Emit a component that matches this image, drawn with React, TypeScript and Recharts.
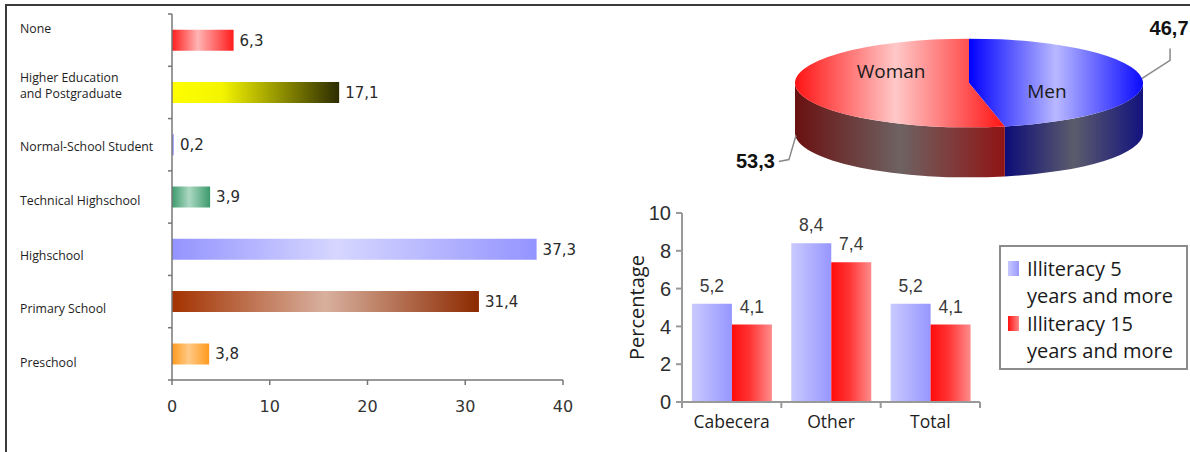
import React from "react";
import { Bar, BarChart, Cell, LabelList, Legend, Pie, PieChart, XAxis, YAxis } from "recharts";

// education level (left)
const levels = [
  "None",
  "Higher Education\nand Postgraduate",
  "Normal-School Student",
  "Technical Highschool",
  "Highschool",
  "Primary School",
  "Preschool",
];
const levelValues = [6.3, 17.1, 0.2, 3.9, 37.3, 31.4, 3.8];
const levelTicks = [0, 10, 20, 30, 40];

// sex split (pie)
const sexLabels = ["Men", "Woman"];
const sexValues = [46.7, 53.3];

// illiteracy (small bars)
const areas = ["Cabecera", "Other", "Total"];
const illit5 = [5.2, 8.4, 5.2];
const illit15 = [4.1, 7.4, 4.1];
const pctTicks = [0, 2, 4, 6, 8, 10];
const seriesNames = ["Illiteracy 5\nyears and more", "Illiteracy 15\nyears and more"];

const levelData = levels.map((name, i) => ({ name, value: levelValues[i] }));
const sexData = sexLabels.map((name, i) => ({ name, value: sexValues[i] }));
const areaData = areas.map((name, i) => ({ name, a: illit5[i], b: illit15[i] }));

const comma = (v: any) => String(v).replace(".", ",");

// gradient stops per level bar
const levelGrads = [
  ["#ff1c1c", "#ffb4b4", "#ff1c1c"],
  ["#ffff00", "#f4f400", "#2c2c00"],
  ["#8c8cff", "#c4c4ff", "#8c8cff"],
  ["#3c9a6c", "#acd8c2", "#3c9a6c"],
  ["#9494ff", "#d6d6ff", "#9494ff"],
  ["#a33200", "#d8b09e", "#8c2a00"],
  ["#ff9a1e", "#ffc985", "#ff9a1e"],
];
const midStop = ["42%", "30%", "50%", "45%", "45%", "50%", "45%"];
const labelNudge = [-11, -7, 2, 4, 6, 7.5, 8.5];

const L_TOP = 14;
const L_BOTTOM = 380;
const L_BAND = (L_BOTTOM - L_TOP) / levels.length;

function LevelTick(props: any) {
  const { x, y, payload, index } = props;
  const lines = String(payload.value).split("\n");
  const yc = y + labelNudge[index] - (lines.length - 1) * 8;
  return (
    <g>
      <line x1={x - 4} x2={x} y1={y - L_BAND / 2} y2={y - L_BAND / 2} stroke="#777" strokeWidth={1.5} />
      {index === levels.length - 1 && (
        <line x1={x - 4} x2={x} y1={y + L_BAND / 2} y2={y + L_BAND / 2} stroke="#777" strokeWidth={1.5} />
      )}
      <text x={20} y={yc} fontFamily="Open Sans" fontSize={12.3} fill="#1e1e1e">
        {lines.map((l, i) => (
          <tspan key={i} x={20} dy={i === 0 ? "0.35em" : 16}>
            {l}
          </tspan>
        ))}
      </text>
    </g>
  );
}

// 3D pie drawn from the sector angles recharts computes
const FLAT = 0.255;
const DEPTH = 50;

function SexSlice(props: any) {
  const { cx, cy, outerRadius, startAngle, endAngle, midAngle, index, value, name } = props;
  const rx = outerRadius;
  const ry = outerRadius * FLAT;
  const pt = (deg: number, dy = 0) => {
    const r = (deg * Math.PI) / 180;
    return [cx + rx * Math.cos(r), cy - ry * Math.sin(r) + dy];
  };
  const [sx, sy] = pt(startAngle);
  const [ex, ey] = pt(endAngle);
  const large = Math.abs(endAngle - startAngle) > 180 ? 1 : 0;
  const sweep = endAngle < startAngle ? 1 : 0;
  const top = `M${cx},${cy} L${sx},${sy} A${rx},${ry} 0 ${large} ${sweep} ${ex},${ey} Z`;

  const lo = Math.min(startAngle, endAngle);
  const hi = Math.max(startAngle, endAngle);
  const sides: string[] = [];
  for (const k of [-360, 0, 360]) {
    const a = Math.max(lo, -180 + k);
    const b = Math.min(hi, k);
    if (a < b) {
      const [bx, by] = pt(b);
      const [ax, ay] = pt(a);
      sides.push(
        `M${bx},${by} A${rx},${ry} 0 0 1 ${ax},${ay} L${ax},${ay + DEPTH} A${rx},${ry} 0 0 0 ${bx},${by + DEPTH} Z`
      );
    }
  }
  const key = index === 0 ? "men" : "woman";
  const [mx, my] = pt(midAngle);
  const inner = [cx + 0.45 * rx * Math.cos((midAngle * Math.PI) / 180), cy + (index === 0 ? 8 : -12)];

  return (
    <g>
      {sides.map((d, i) => (
        <path key={i} d={d} fill={`url(#side-${key})`} />
      ))}
      <path d={top} fill={`url(#top-${key})`} />
      <text
        x={inner[0]}
        y={inner[1]}
        dy="0.35em"
        textAnchor="middle"
        fontFamily="Open Sans"
        fontSize={19}
        fill="#1a1a1a"
      >
        {name}
      </text>
      {index === 0 ? (
        <g>
          <polyline
            points={`${mx},${my} ${mx + 28},${my - 18} ${mx + 28},${my - 30}`}
            fill="none"
            stroke="#888"
            strokeWidth={1.5}
          />
          <text x={mx + 27} y={my - 50} dy="0.35em" textAnchor="middle" fontFamily="Liberation Sans" fontWeight="bold" fontSize={20} fill="#111">
            {comma(value)}
          </text>
        </g>
      ) : (
        <g>
          <polyline
            points={`${mx},${my + DEPTH - 2} ${mx - 7},${my + DEPTH + 22} ${mx - 17},${my + DEPTH + 24}`}
            fill="none"
            stroke="#888"
            strokeWidth={1.5}
          />
          <text x={mx - 21} y={my + DEPTH + 23} dy="0.35em" textAnchor="end" fontFamily="Liberation Sans" fontWeight="bold" fontSize={20} fill="#111">
            {comma(value)}
          </text>
        </g>
      )}
    </g>
  );
}

const R_BAND = 298 / areas.length;

function AreaTick(props: any) {
  const { x, y, payload, index } = props;
  return (
    <g>
      {index === 0 && (
        <line x1={x - R_BAND / 2} x2={x - R_BAND / 2} y1={y} y2={y + 6} stroke="#999" strokeWidth={2} />
      )}
      <line x1={x + R_BAND / 2} x2={x + R_BAND / 2} y1={y} y2={y + 6} stroke="#999" strokeWidth={2} />
      <text x={x} y={y + 20} dy="0.35em" textAnchor="middle" fontFamily="Open Sans" fontSize={17.5} fill="#1e1e1e">
        {payload.value}
      </text>
    </g>
  );
}

const legendSwatch: Record<string, string> = {
  a: "linear-gradient(90deg, #c8c8ff, #9a9aff)",
  b: "linear-gradient(90deg, #ff1010, #ff8888)",
};

function IlliteracyLegend(props: any) {
  const items = [...(props.payload || [])].sort((p: any, q: any) =>
    String(p.dataKey).localeCompare(String(q.dataKey))
  );
  return (
    <div
      style={{
        border: "2px solid #8c8c8c",
        width: 185,
        height: 121,
        boxSizing: "content-box",
        fontFamily: "Open Sans",
        fontSize: 20,
        lineHeight: "27px",
        color: "#1a1a1a",
      }}
    >
      {items.map((p: any) => (
        <div
          key={p.dataKey}
          style={{
            position: "relative",
            paddingLeft: 26,
            marginTop: p.dataKey === "a" ? 8 : 1,
            whiteSpace: "pre-line",
          }}
        >
          <span
            style={{
              position: "absolute",
              left: 7,
              top: 6,
              width: 11,
              height: 15,
              background: legendSwatch[p.dataKey],
            }}
          />
          {p.value}
        </div>
      ))}
    </div>
  );
}

export default function App() {
  return (
    <div
      style={{
        position: "absolute",
        left: 0,
        top: 0,
        width: 1190,
        height: 452,
        overflow: "hidden",
        background: "#fff",
      }}
    >
      <div
        style={{
          position: "absolute",
          left: 5,
          top: 4,
          width: 1300,
          height: 600,
          border: "2px solid #3a3a3a",
        }}
      />

      <div style={{ position: "absolute", left: 0, top: 0 }}>
        <BarChart
          width={600}
          height={452}
          layout="vertical"
          data={levelData}
          margin={{ top: L_TOP, right: 37, bottom: 42, left: 12 }}
          barCategoryGap="30%"
        >
          <defs>
            {levelGrads.map((g, i) => (
              <linearGradient key={i} id={`lvl-${i}`} x1="0" y1="0" x2="1" y2="0">
                <stop offset="0%" stopColor={g[0]} />
                <stop offset={midStop[i]} stopColor={g[1]} />
                <stop offset="100%" stopColor={g[2]} />
              </linearGradient>
            ))}
          </defs>
          <XAxis
            type="number"
            domain={[0, 40]}
            ticks={levelTicks}
            height={30}
            tickSize={5}
            tickMargin={16}
            axisLine={{ stroke: "#777", strokeWidth: 1.5 }}
            tickLine={{ stroke: "#777", strokeWidth: 1.5 }}
            tick={{ fontFamily: "DejaVu Sans", fontSize: 16, fill: "#333" }}
          />
          <YAxis
            type="category"
            dataKey="name"
            width={160}
            tickSize={0}
            tickMargin={0}
            tickLine={false}
            axisLine={{ stroke: "#777", strokeWidth: 1.5 }}
            interval={0}
            tick={<LevelTick />}
          />
          <Bar dataKey="value" isAnimationActive={false}>
            {levelData.map((_, i) => (
              <Cell key={i} fill={`url(#lvl-${i})`} />
            ))}
            <LabelList
              dataKey="value"
              position="right"
              offset={6}
              formatter={comma}
              fill="#2a2a2a"
              fontSize={15}
              fontFamily="DejaVu Sans"
            />
          </Bar>
        </BarChart>
      </div>

      <div style={{ position: "absolute", left: 600, top: 0 }}>
        <PieChart width={590} height={200}>
          <defs>
            <linearGradient id="top-men" x1="0" y1="0" x2="1" y2="0">
              <stop offset="0%" stopColor="#0000ff" />
              <stop offset="50%" stopColor="#b8b8ff" />
              <stop offset="100%" stopColor="#0a0aff" />
            </linearGradient>
            <linearGradient id="top-woman" x1="0" y1="0" x2="1" y2="0">
              <stop offset="0%" stopColor="#ff1414" />
              <stop offset="48%" stopColor="#ffc8c8" />
              <stop offset="100%" stopColor="#ff1414" />
            </linearGradient>
            <linearGradient id="side-men" x1="0" y1="0" x2="1" y2="0">
              <stop offset="0%" stopColor="#0c0c78" />
              <stop offset="50%" stopColor="#5c5c6c" />
              <stop offset="100%" stopColor="#12127e" />
            </linearGradient>
            <linearGradient id="side-woman" x1="0" y1="0" x2="1" y2="0">
              <stop offset="0%" stopColor="#6a1010" />
              <stop offset="50%" stopColor="#6e6262" />
              <stop offset="100%" stopColor="#901414" />
            </linearGradient>
          </defs>
          <Pie
            data={sexData}
            dataKey="value"
            nameKey="name"
            cx={364}
            cy={78}
            outerRadius={174}
            startAngle={90}
            endAngle={-270}
            fill="none"
            stroke="none"
            label={SexSlice}
            labelLine={false}
            isAnimationActive={false}
          >
            {sexData.map((_, i) => (
              <Cell key={i} fill="none" stroke="none" />
            ))}
          </Pie>
        </PieChart>
      </div>

      <div style={{ position: "absolute", left: 600, top: 190 }}>
        <BarChart
          width={590}
          height={262}
          data={areaData}
          margin={{ top: 23, right: 210, bottom: 20, left: 20 }}
          barCategoryGap="10%"
          barGap={0}
        >
          <defs>
            <linearGradient id="ill-a" x1="0" y1="0" x2="1" y2="0">
              <stop offset="0%" stopColor="#cacaff" />
              <stop offset="100%" stopColor="#9696ff" />
            </linearGradient>
            <linearGradient id="ill-b" x1="0" y1="0" x2="1" y2="0">
              <stop offset="0%" stopColor="#ff0c0c" />
              <stop offset="45%" stopColor="#ff3434" />
              <stop offset="100%" stopColor="#ff8c8c" />
            </linearGradient>
          </defs>
          <XAxis
            dataKey="name"
            height={30}
            tickSize={0}
            tickMargin={0}
            tickLine={false}
            axisLine={{ stroke: "#999", strokeWidth: 2 }}
            interval={0}
            tick={<AreaTick />}
          />
          <YAxis
            width={62}
            domain={[0, 10]}
            ticks={pctTicks}
            tickSize={6}
            tickMargin={5}
            axisLine={{ stroke: "#999", strokeWidth: 2 }}
            tickLine={{ stroke: "#999", strokeWidth: 2 }}
            tick={{ fontFamily: "Liberation Sans", fontSize: 20, fill: "#2e2e2e" }}
            label={{
              value: "Percentage",
              angle: -90,
              position: "center",
              dx: -14,
              fontFamily: "Open Sans",
              fontSize: 20,
              fill: "#1e1e1e",
            }}
          />
          <Legend
            layout="vertical"
            align="center"
            verticalAlign="middle"
            wrapperStyle={{ left: 399, top: 55, width: 189 }}
            content={<IlliteracyLegend />}
          />
          <Bar dataKey="a" name={seriesNames[0]} fill="url(#ill-a)" isAnimationActive={false}>
            <LabelList dataKey="a" position="top" offset={12} formatter={comma} fill="#3a3a3a" fontSize={17.5} fontFamily="Liberation Sans" />
          </Bar>
          <Bar dataKey="b" name={seriesNames[1]} fill="url(#ill-b)" isAnimationActive={false}>
            <LabelList dataKey="b" position="top" offset={12} formatter={comma} fill="#3a3a3a" fontSize={17.5} fontFamily="Liberation Sans" />
          </Bar>
        </BarChart>
      </div>
    </div>
  );
}
